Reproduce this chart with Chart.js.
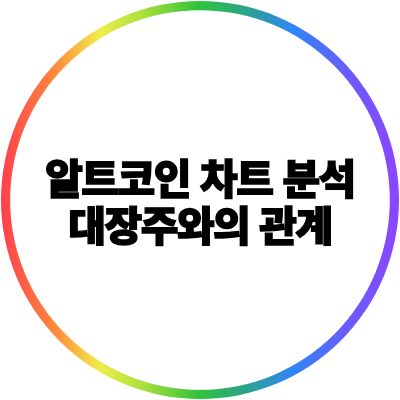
<!DOCTYPE html>
<html lang="ko">
<head>
<meta charset="utf-8">
<script src="https://cdn.jsdelivr.net/npm/chart.js@4/dist/chart.umd.min.js"></script>
<style>
  html, body { margin: 0; padding: 0; background: #fff; }
  #wrap { position: relative; width: 400px; height: 400px; }
  #title {
    position: absolute; left: 0; top: 0; width: 400px; height: 400px;
    display: flex; flex-direction: column; justify-content: center; align-items: center;
    font-family: "Noto Sans CJK KR", sans-serif; font-weight: 900;
    font-size: 41px; line-height: 47px; color: #000; letter-spacing: -1.5px;
    -webkit-text-stroke: 1.4px #000;
    pointer-events: none;
  }
</style>
</head>
<body>
<div id="wrap">
  <canvas id="ring" width="400" height="400"></canvas>
  <div id="title"><span>알트코인 차트 분석</span><span>대장주와의 관계</span></div>
</div>
<script>
// one full slice, coloured by a left-to-right rainbow
const labels = ['알트코인 차트 분석'];
const values = [100];
const gradientStops = [
    [0.00, '#ff3d4d'],
    [0.14, '#ff8a3c'],
    [0.25, '#f0ee4a'],
    [0.36, '#a6e03a'],
    [0.50, '#2ec23c'],
    [0.62, '#2aa38e'],
    [0.73, '#2f86f6'],
    [0.87, '#6a5bff'],
    [1.00, '#8c45ff']
];

function rainbow(context) {
    const chart = context.chart;
    const area = chart.chartArea;
    if (!area) return '#2ec23c';
    const g = chart.ctx.createLinearGradient(area.left - 1, 0, area.right + 1, 0);
    gradientStops.forEach(s => g.addColorStop(s[0], s[1]));
    return g;
}

const ctx = document.getElementById('ring').getContext('2d');
const ringChart = new Chart(ctx, {
    type: 'doughnut',
    data: {
        labels: labels,
        datasets: [{
            data: values,
            backgroundColor: rainbow,
            borderWidth: 0
        }]
    },
    options: {
        responsive: false,
        animation: false,
        cutout: '95.4%',
        layout: { padding: 1 },
        plugins: {
            legend: { display: false },
            tooltip: { enabled: false }
        }
    }
});
</script>
</body>
</html>
